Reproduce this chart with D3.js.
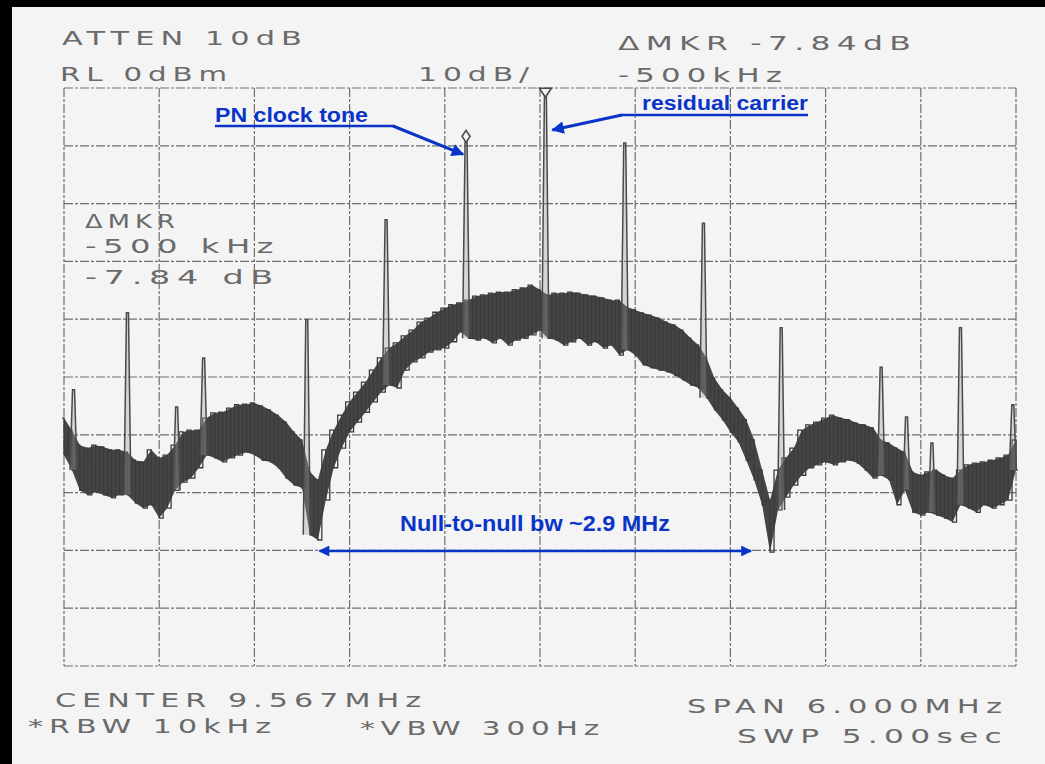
<!DOCTYPE html>
<html>
<head>
<meta charset="utf-8">
<script src="https://cdn.jsdelivr.net/npm/d3@7"></script>
<style>
  html, body { margin: 0; padding: 0; background: #f3f3f3; }
  svg { display: block; }
</style>
</head>
<body>
<svg id="chart" width="1045" height="764"></svg>
<script>
// Spectrum analyzer plot: centre 9.567 MHz, span 6 MHz, 10 dB/div, reference level 0 dBm.
// Frequencies are offsets from the centre in MHz, levels in dBm.

const gridFreqs  = [-3, -2.4, -1.8, -1.2, -0.6, 0, 0.6, 1.2, 1.8, 2.4, 3];
const gridLevels = [0, -10, -20, -30, -40, -50, -60, -70, -80, -90, -100];

// Noise trace envelope, one bin every 50 kHz from -3 MHz to +3 MHz
const binStart = -3;
const binStep = 0.05;
const traceHigh = [
  -57.1, -59.2, -61.8, -62.3, -61.8, -62.1, -62.6, -62.6, -63.0, -64.4,
  -64.7, -62.6, -64.0, -63.5, -61.8, -59.5, -59.2, -59.2, -57.1, -56.2,
  -56.1, -55.4, -54.8, -54.7, -54.5, -55.0, -55.7, -56.6, -57.8, -59.5,
  -60.9, -66.4, -67.8, -62.6, -59.2, -56.6, -54.3, -52.6, -50.9, -48.8,
  -46.7, -45.0, -44.1, -42.9, -41.9, -40.5, -39.8, -38.8, -38.1, -37.5,
  -37.2, -36.7, -36.0, -35.8, -35.5, -35.3, -35.3, -34.9, -34.6, -34.1,
  -34.9, -35.8, -35.5, -35.5, -35.3, -35.5, -35.8, -36.0, -36.3, -36.7,
  -36.7, -37.9, -38.4, -38.9, -39.3, -39.8, -40.5, -41.0, -41.9, -43.3,
  -44.5, -46.7, -50.2, -52.2, -53.6, -55.4, -57.4, -60.9, -66.1, -71.3,
  -66.1, -64.0, -62.3, -59.2, -58.3, -57.8, -57.1, -56.6, -57.1, -57.4,
  -58.0, -58.3, -58.8, -60.9, -61.4, -62.3, -63.0, -66.4, -67.0, -66.4,
  -66.1, -67.0, -67.5, -66.1, -65.2, -64.9, -64.7, -64.4, -64.0, -63.5,
  -60.9
];
const traceLow = [
  -63.5, -66.1, -69.6, -70.4, -69.9, -70.4, -70.9, -70.4, -70.4, -71.8,
  -72.7, -72.1, -74.4, -72.7, -69.6, -68.2, -67.5, -65.7, -63.5, -64.0,
  -64.7, -64.0, -63.5, -63.0, -63.5, -64.4, -64.7, -65.7, -67.5, -68.7,
  -69.2, -77.3, -78.2, -71.3, -65.7, -62.3, -59.5, -57.8, -56.1, -54.3,
  -52.6, -51.4, -51.9, -48.8, -47.4, -46.7, -45.7, -45.3, -45.0, -43.9,
  -42.2, -43.3, -43.6, -43.3, -44.1, -43.3, -44.5, -43.6, -43.3, -42.7,
  -41.9, -43.3, -43.6, -44.5, -43.9, -43.3, -44.5, -43.9, -45.0, -44.5,
  -46.2, -45.3, -46.2, -47.9, -48.4, -48.8, -49.1, -49.7, -50.5, -51.4,
  -51.9, -53.6, -55.7, -57.4, -59.5, -61.2, -64.4, -67.8, -72.1, -80.3,
  -73.0, -70.8, -68.7, -67.0, -65.7, -65.2, -64.7, -65.2, -64.7, -64.4,
  -64.9, -66.1, -67.5, -67.0, -67.8, -72.1, -69.6, -73.4, -73.9, -73.4,
  -73.9, -74.4, -75.1, -72.1, -72.7, -73.4, -72.1, -72.7, -72.1, -71.3,
  -66.1
];

// Discrete tones sitting on the spectrum
const spurFreqs  = [-2.94, -2.60, -2.29, -2.12, -1.47, -0.97, -0.466, 0.034, 0.534, 1.03, 1.52, 2.15, 2.31, 2.47, 2.65, 2.98];
const spurLevels = [-52.2, -38.9, -55.2, -46.7, -40.1, -22.8, -9.4, -1.6, -9.5, -23.4, -41.5, -48.3, -56.9, -61.4, -41.5, -54.8];

// Markers: reference marker on the carrier, delta marker on the PN clock tone
const carrierFreq = 0.034, carrierLevel = -1.6;
const pnFreq = -0.466, pnLevel = -9.4;
// Spectral nulls of the main lobe
const nullFreqs = [-1.39, 1.33];

const headerLines = ["ATTEN 10dB", "RL 0dBm", "10dB/", "ΔMKR -7.84dB", "-500kHz"];
const markerLines = ["ΔMKR", "-500 kHz", "-7.84 dB"];
const footerLines = ["CENTER 9.567MHz", "*RBW 10kHz", "*VBW 300Hz", "SPAN 6.000MHz", "SWP 5.00sec"];
const notes = ["PN clock tone", "residual carrier", "Null-to-null bw ~2.9 MHz"];

const svg = d3.select("#chart");
const x = d3.scaleLinear().domain([-3, 3]).range([64, 1016]);
const y = d3.scaleLinear().domain([-100, 0]).range([666, 88]);

// paper and scanner frame
svg.append("rect").attr("width", 1045).attr("height", 764).attr("fill", "#f4f4f4");
svg.append("rect").attr("width", 1045).attr("height", 7).attr("fill", "#000");
svg.append("rect").attr("width", 12).attr("height", 764).attr("fill", "#000");

// graticule
const ink = "#6e6e6e";
const grid = svg.append("g").attr("stroke", ink).attr("stroke-width", 1.2)
  .attr("stroke-dasharray", "9 2 3 2").attr("fill", "none");
grid.selectAll("line.v").data(gridFreqs).join("line")
  .attr("x1", d => x(d)).attr("x2", d => x(d))
  .attr("y1", y(0)).attr("y2", y(-100));
grid.selectAll("line.h").data(gridLevels).join("line")
  .attr("y1", d => y(d)).attr("y2", d => y(d))
  .attr("x1", x(-3)).attr("x2", x(3));

// noise trace: filled envelope plus a stepped sweep line between its edges
const bins = traceHigh.map((h, i) => ({ f: binStart + i * binStep, hi: h, lo: traceLow[i] }));
const band = d3.area().x(d => x(d.f)).y0(d => y(d.lo)).y1(d => y(d.hi));
svg.append("path").datum(bins).attr("d", band).attr("fill", "#454545");

const sweepPts = [];
bins.forEach(d => {
  sweepPts.push([x(d.f) - 2, y(d.hi)]);
  sweepPts.push([x(d.f) + 2, y(d.lo)]);
});
svg.append("path").datum(sweepPts)
  .attr("d", d3.line().curve(d3.curveStep))
  .attr("fill", "none").attr("stroke", "#3a3a3a").attr("stroke-width", 1.3);

// tones
const nearestBin = f => bins[Math.max(0, Math.min(bins.length - 1, Math.round((f - binStart) / binStep)))];
const spurs = spurFreqs.map((f, i) => ({ f, level: spurLevels[i] }));
svg.append("g").selectAll("path").data(spurs).join("path")
  .attr("d", d => {
    const cx = x(d.f), base = y(nearestBin(d.f).lo), top = y(d.level);
    return `M${cx - 3.5},${base}L${cx - 1},${top}L${cx + 1},${top}L${cx + 3.5},${base}`;
  })
  .attr("fill", "#9a9a9a").attr("fill-opacity", 0.35)
  .attr("stroke", "#4a4a4a").attr("stroke-width", 1.5);

// marker symbols
const pnX = x(pnFreq), pnY = y(pnLevel);
svg.append("path")
  .attr("d", `M${pnX},${pnY - 12}L${pnX + 4},${pnY - 6}L${pnX},${pnY}L${pnX - 4},${pnY - 6}Z`)
  .attr("fill", "none").attr("stroke", "#4a4a4a").attr("stroke-width", 1.6);
const cX = x(carrierFreq), cY = y(carrierLevel);
svg.append("path")
  .attr("d", `M${cX - 6},${cY - 9}L${cX + 6},${cY - 9}L${cX},${cY}Z`)
  .attr("fill", "none").attr("stroke", "#4a4a4a").attr("stroke-width", 1.6);

// plotter annotations
function plotText(str, x0, baseline, width) {
  svg.append("text")
    .attr("x", x0).attr("y", baseline)
    .attr("textLength", width).attr("lengthAdjust", "spacingAndGlyphs")
    .attr("font-family", "'DejaVu Sans', sans-serif")
    .attr("font-size", 20).attr("letter-spacing", 4).attr("fill", "#6a6a6a")
    .text(str);
}
plotText(headerLines[0], 62, 45, 246);
plotText(headerLines[1], 60, 81, 173);
plotText(headerLines[2], 418, 81, 117);
plotText(headerLines[3], 618, 50, 299);
plotText(headerLines[4], 618, 82, 170);
plotText(markerLines[0], 85, 228, 95);
plotText(markerLines[1], 85, 253, 195);
plotText(markerLines[2], 85, 284, 195);
plotText(footerLines[0], 55, 707, 372);
plotText(footerLines[1], 28, 733, 249);
plotText(footerLines[2], 360, 735, 245);
plotText(footerLines[3], 687, 713, 321);
plotText(footerLines[4], 737, 743, 271);

// blue callouts
const blue = "#0a34c8";
const defs = svg.append("defs");
defs.append("marker").attr("id", "head").attr("viewBox", "0 0 10 10")
  .attr("refX", 9).attr("refY", 5).attr("markerWidth", 5).attr("markerHeight", 4.2)
  .attr("orient", "auto-start-reverse").attr("markerUnits", "strokeWidth")
  .append("path").attr("d", "M0,0L10,5L0,10Z").attr("fill", blue);

function note(str, x0, baseline, width, size) {
  svg.append("text")
    .attr("x", x0).attr("y", baseline)
    .attr("textLength", width).attr("lengthAdjust", "spacingAndGlyphs")
    .attr("font-family", "'Liberation Sans', Arial, sans-serif").attr("font-weight", 700)
    .attr("font-size", size).attr("fill", blue)
    .text(str);
}
note(notes[0], 215, 122, 153, 20);
svg.append("line").attr("x1", 215).attr("x2", 394).attr("y1", 126).attr("y2", 126)
  .attr("stroke", blue).attr("stroke-width", 2.6);
svg.append("line").attr("x1", 393).attr("y1", 126).attr("x2", pnX - 3).attr("y2", pnY + 12)
  .attr("stroke", blue).attr("stroke-width", 3).attr("marker-end", "url(#head)");

note(notes[1], 642, 110, 166, 20);
svg.append("line").attr("x1", 621).attr("x2", 808).attr("y1", 115).attr("y2", 115)
  .attr("stroke", blue).attr("stroke-width", 2.6);
svg.append("line").attr("x1", 622).attr("y1", 115).attr("x2", cX + 7).attr("y2", 130)
  .attr("stroke", blue).attr("stroke-width", 3).attr("marker-end", "url(#head)");

note(notes[2], 400, 531, 270, 22);
svg.append("line").attr("x1", x(nullFreqs[0])).attr("x2", x(nullFreqs[1])).attr("y1", 551).attr("y2", 551)
  .attr("stroke", blue).attr("stroke-width", 2.6)
  .attr("marker-start", "url(#head)").attr("marker-end", "url(#head)");
</script>
</body>
</html>
